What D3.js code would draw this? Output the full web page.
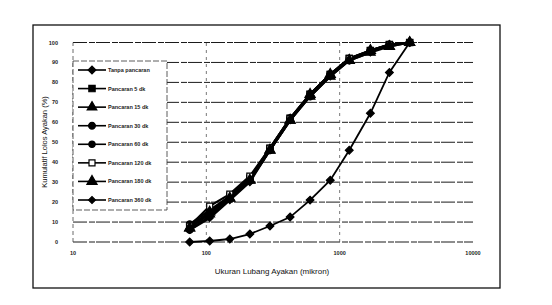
<!DOCTYPE html>
<html>
<head>
<meta charset="utf-8">
<script src="https://cdn.jsdelivr.net/npm/d3@7"></script>
<style>
  body { margin: 0; background: #fff; }
  svg { font-family: "Liberation Sans", Arial, sans-serif; }
</style>
</head>
<body>
<div id="chart"></div>
<script>
const width = 552;
const height = 305;

// sieve sizes (mikron)
const sieve = [75, 106, 150, 212, 300, 425, 600, 850, 1180, 1700, 2360, 3350];

const seriesNames = ["Tanpa pancaran", "Pancaran 5 dk", "Pancaran 15 dk", "Pancaran 30 dk",
    "Pancaran 60 dk", "Pancaran 120 dk", "Pancaran 180 dk", "Pancaran 360 dk"];

const tanpa = [0, 0.5, 1.5, 4, 8, 12.5, 21, 31, 46, 64.5, 85, 100];
const p5 = [8, 15, 23, 32, 47, 62, 74, 84, 92, 96, 99, 100];
const p15 = [7, 14, 22, 31, 46, 61, 73, 83, 91, 95, 98, 100];
const p30 = [6, 13, 22, 31, 46, 62, 73, 84, 91, 96, 99, 100];
const p60 = [9, 16, 23, 32, 47, 62, 74, 84, 92, 96, 99, 100];
const p120 = [8, 18, 24, 33, 47, 62, 74, 84, 92, 96, 99, 100];
const p180 = [7, 15, 22, 31, 46, 61, 74, 84, 91, 96, 98, 100];
const p360 = [6, 12, 21, 30, 46, 61, 73, 83, 91, 95, 99, 100];

const seriesValues = [tanpa, p5, p15, p30, p60, p120, p180, p360];

const xTicks = [10, 100, 1000, 10000];
const yTicks = [0, 10, 20, 30, 40, 50, 60, 70, 80, 90, 100];

// marker per series
const markers = [
    { type: d3.symbolDiamond2, size: 30, fill: "#000" },
    { type: d3.symbolSquare, size: 40, fill: "#000" },
    { type: d3.symbolTriangle, size: 40, fill: "#000" },
    { type: d3.symbolCircle, size: 36, fill: "#000" },
    { type: d3.symbolCircle, size: 32, fill: "#000" },
    { type: d3.symbolSquare, size: 36, fill: "#fff" },
    { type: d3.symbolTriangle, size: 45, fill: "#000" },
    { type: d3.symbolDiamond2, size: 24, fill: "#000" }
];

const svg = d3.select("#chart").append("svg")
    .attr("width", width)
    .attr("height", height);

// outer frame
svg.append("rect")
    .attr("x", 33).attr("y", 25)
    .attr("width", 467).attr("height", 263)
    .attr("fill", "#fff")
    .attr("stroke", "#111")
    .attr("stroke-width", 1.3);

const x = d3.scaleLog().domain([10, 10000]).range([73, 473]);
const y = d3.scaleLinear().domain([0, 100]).range([242, 42.5]);

const g = svg.append("g");

// horizontal gridlines
g.selectAll(".hgrid")
    .data(yTicks)
    .join("line")
    .attr("class", "hgrid")
    .attr("x1", x(10)).attr("x2", x(10000))
    .attr("y1", d => y(d)).attr("y2", d => y(d))
    .attr("stroke", "#1a1a1a")
    .attr("stroke-width", 1)
    .attr("stroke-dasharray", "14,2,6,1");

// vertical gridlines at 100, 1000
g.selectAll(".vgrid")
    .data([100, 1000])
    .join("line")
    .attr("class", "vgrid")
    .attr("x1", d => x(d)).attr("x2", d => x(d))
    .attr("y1", y(0)).attr("y2", y(100))
    .attr("stroke", "#555")
    .attr("stroke-width", 0.8)
    .attr("stroke-dasharray", "3,4");

// left axis line
g.append("line")
    .attr("x1", x(10)).attr("x2", x(10))
    .attr("y1", y(0)).attr("y2", y(100))
    .attr("stroke", "#444")
    .attr("stroke-width", 0.8)
    .attr("stroke-dasharray", "4,3");

// tick labels
g.selectAll(".ylab")
    .data(yTicks)
    .join("text")
    .attr("x", 58)
    .attr("y", d => y(d) + 2)
    .attr("text-anchor", "end")
    .attr("font-size", 5.5)
    .attr("font-weight", "bold")
    .attr("fill", "#222")
    .text(d => d);

g.selectAll(".xlab")
    .data(xTicks)
    .join("text")
    .attr("x", d => x(d))
    .attr("y", 255)
    .attr("text-anchor", "middle")
    .attr("font-size", 5.5)
    .attr("font-weight", "bold")
    .attr("fill", "#222")
    .text(d => d);

// axis titles
svg.append("text")
    .attr("x", 272).attr("y", 274)
    .attr("text-anchor", "middle")
    .attr("font-size", 8)
    .attr("fill", "#111")
    .text("Ukuran Lubang Ayakan (mikron)");

svg.append("text")
    .attr("transform", "translate(47,142) rotate(-90)")
    .attr("text-anchor", "middle")
    .attr("font-size", 7.5)
    .attr("fill", "#111")
    .text("Kumulatif Lolos Ayakan (%)");

// series lines + markers
const line = d3.line()
    .x((d, i) => x(sieve[i]))
    .y(d => y(d));

seriesValues.forEach((vals, s) => {
    const sg = g.append("g");
    sg.append("path")
        .datum(vals)
        .attr("d", line)
        .attr("fill", "none")
        .attr("stroke", "#000")
        .attr("stroke-width", s === 0 ? 1.8 : 2.2);
    sg.selectAll("path.m")
        .data(vals)
        .join("path")
        .attr("class", "m")
        .attr("transform", (d, i) => `translate(${x(sieve[i])},${y(d)}) rotate(45)`)
        .attr("d", d3.symbol().type(markers[s].type === d3.symbolDiamond2 ? d3.symbolSquare : markers[s].type).size(markers[s].size))
        .attr("transform", (d, i) => `translate(${x(sieve[i])},${y(d)})` + (markers[s].type === d3.symbolDiamond2 ? " rotate(45)" : ""))
        .attr("fill", markers[s].fill)
        .attr("stroke", "#000")
        .attr("stroke-width", 1.2);
});

// legend
const legend = svg.append("g");
legend.append("rect")
    .attr("x", 73).attr("y", 61)
    .attr("width", 94).attr("height", 149)
    .attr("fill", "#fff")
    .attr("stroke", "#333")
    .attr("stroke-width", 0.8)
    .attr("stroke-dasharray", "6,2");

const legendY = d3.scalePoint()
    .domain(seriesNames)
    .range([70, 200]);

seriesNames.forEach((name, s) => {
    const ly = legendY(name);
    const isDiamond = markers[s].type === d3.symbolDiamond2;
    legend.append("line")
        .attr("x1", 78).attr("x2", 106)
        .attr("y1", ly).attr("y2", ly)
        .attr("stroke", "#000")
        .attr("stroke-width", 1.6);
    legend.append("path")
        .attr("transform", `translate(92,${ly})` + (isDiamond ? " rotate(45)" : ""))
        .attr("d", d3.symbol().type(isDiamond ? d3.symbolSquare : markers[s].type).size(markers[s].size))
        .attr("fill", markers[s].fill)
        .attr("stroke", "#000")
        .attr("stroke-width", 1.2);
    legend.append("text")
        .attr("x", 108).attr("y", ly + 2)
        .attr("font-size", 5.5)
        .attr("font-weight", "bold")
        .attr("fill", "#222")
        .text(name);
});
</script>
</body>
</html>
